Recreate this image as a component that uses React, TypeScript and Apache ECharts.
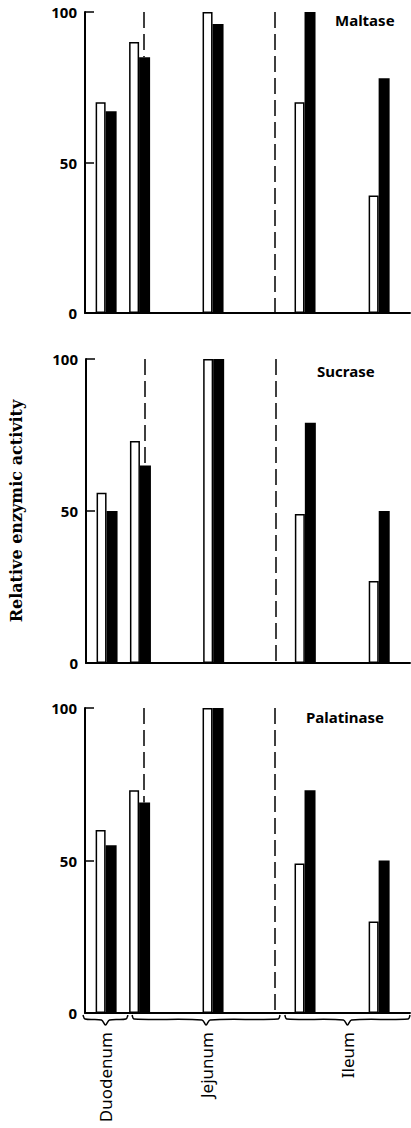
import React, { useEffect, useRef } from 'react';
import * as echarts from 'echarts';

// Sampling sites along the small intestine (% of length)
const sitePositions = [6.5, 16.8, 39.4, 67.7, 90.5];
const enzymes = ['Maltase', 'Sucrase', 'Palatinase'];
const maltaseWhite = [70, 90, 100, 70, 39];
const maltaseBlack = [67, 85, 96, 100, 78];
const sucraseWhite = [56, 73, 100, 49, 27];
const sucraseBlack = [50, 65, 100, 79, 50];
const palatinaseWhite = [60, 73, 100, 49, 30];
const palatinaseBlack = [55, 69, 100, 73, 50];
const boundaries = [19.9, 60.2];
const regions = ['Duodenum', 'Jejunum', 'Ileum'];
const regionStart = [-0.6, 14.5, 61.5];
const regionEnd = [13.2, 60, 100];
const yAxisTitle = 'Relative enzymic activity';

const whiteSets = [maltaseWhite, sucraseWhite, palatinaseWhite];
const blackSets = [maltaseBlack, sucraseBlack, palatinaseBlack];

const gridTops = [12, 359, 708];
const gridHeights = [301, 304, 305];
const titlePos = [[335, 20], [317, 371], [306, 717]];

export default function App() {
  const ref = useRef<HTMLDivElement>(null);
  useEffect(() => {
    if (!ref.current) return;
    const chart = echarts.init(ref.current, null, { renderer: 'svg' });
    const grids = gridTops.map((t, i) => ({ left: 85, width: 325, top: t, height: gridHeights[i] }));
    const xAxes = grids.map((_, i) => ({
      type: 'value', gridIndex: i, min: 0, max: 100,
      axisLine: { show: true, onZero: false, lineStyle: { color: '#000', width: 2 } },
      axisTick: { show: false }, axisLabel: { show: false }, splitLine: { show: false },
    }));
    const yAxes = grids.map((_, i) => ({
      type: 'value', gridIndex: i, min: 0, max: 100, interval: 50,
      axisLine: { show: true, lineStyle: { color: '#000', width: 2 } },
      axisTick: { show: true, inside: true, length: 9, lineStyle: { color: '#000', width: 1.5 } },
      axisLabel: { color: '#000', fontSize: 15, fontWeight: 'bold', fontFamily: 'Noto Sans', margin: 8 },
      splitLine: { show: false },
      name: i === 1 ? yAxisTitle : '',
      nameLocation: 'middle', nameGap: 62, nameRotate: 90,
      nameTextStyle: { color: '#000', fontSize: 16, fontWeight: 'bold', fontFamily: 'DejaVu Serif' },
    }));
    const series: any[] = [];
    enzymes.forEach((name, i) => {
      // first boundary line stops where the black bar of the second site begins
      const lineBottoms = [blackSets[i][1], 0];
      series.push({
        type: 'bar', name: name + ' white', xAxisIndex: i, yAxisIndex: i,
        data: sitePositions.map((x, j) => [x, whiteSets[i][j]]),
        barWidth: 10, barGap: '0%',
        itemStyle: { color: '#fff', borderColor: '#000', borderWidth: 1.5 },
        markLine: {
          silent: true, symbol: 'none', label: { show: false },
          lineStyle: { type: [16, 6], color: '#000', width: 1.5 },
          data: boundaries.map((b, k) => [{ coord: [b, 100] }, { coord: [b, lineBottoms[k]] }]),
        },
      });
      series.push({
        type: 'bar', name: name + ' black', xAxisIndex: i, yAxisIndex: i,
        data: sitePositions.map((x, j) => [x, blackSets[i][j]]),
        barWidth: 11, barGap: '0%',
        itemStyle: { color: '#000' },
      });
    });
    chart.setOption({
      animation: false,
      grid: grids, xAxis: xAxes, yAxis: yAxes, series,
    });
    const graphic: any[] = [];
    enzymes.forEach((name, i) => {
      graphic.push({
        type: 'text', x: titlePos[i][0], y: titlePos[i][1],
        style: { text: name, fill: '#000', font: 'bold 15px "Noto Sans"', textVerticalAlign: 'middle' },
      });
    });
    const yBase = 1015;
    regions.forEach((r, i) => {
      const x1 = chart.convertToPixel({ xAxisIndex: 2 }, regionStart[i]) as number;
      const x2 = chart.convertToPixel({ xAxisIndex: 2 }, regionEnd[i]) as number;
      const mid = (x1 + x2) / 2;
      graphic.push({
        type: 'polyline',
        shape: {
          points: [[x1, yBase], [x1 + 2, yBase + 4], [mid - 4, yBase + 5], [mid, yBase + 10], [mid + 4, yBase + 5], [x2 - 2, yBase + 4], [x2, yBase]],
          smooth: 0.3,
        },
        style: { stroke: '#000', lineWidth: 1.5, fill: null },
      });
      graphic.push({
        type: 'text', x: mid, y: yBase + 17, rotation: Math.PI / 2,
        style: { text: r, fill: '#000', font: '17px "Noto Sans"', textAlign: 'right', textVerticalAlign: 'middle' },
      });
    });
    chart.setOption({ graphic });
    return () => chart.dispose();
  }, []);
  return <div ref={ref} style={{ position: 'absolute', left: 0, top: 0, width: 411, height: 1128 }} />;
}
